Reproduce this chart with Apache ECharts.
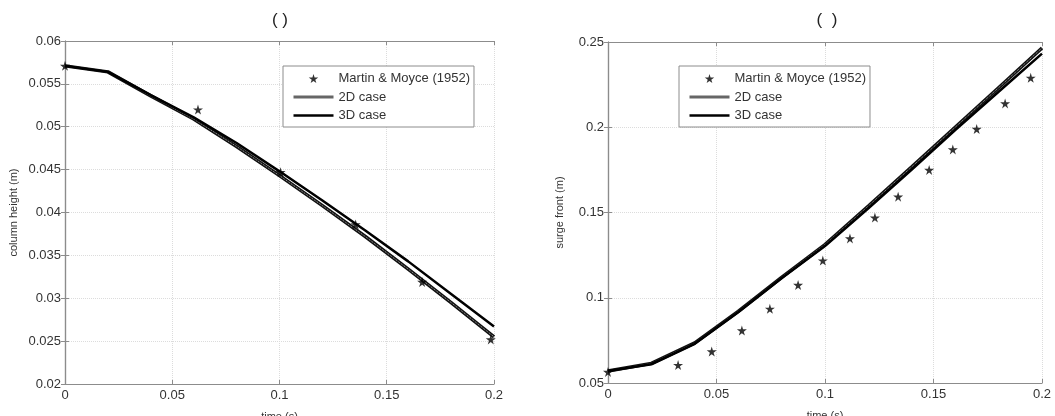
<!DOCTYPE html>
<html>
<head>
<meta charset="utf-8">
<script src="https://cdn.jsdelivr.net/npm/echarts@6/dist/echarts.min.js"></script>
<style>
  html, body { margin: 0; padding: 0; background: #fff; }
  #chart { width: 1055px; height: 416px; }
</style>
</head>
<body>
<div id="chart"></div>
<script>
// simulation time steps (s)
const simTime = [0, 0.02, 0.04, 0.06, 0.08, 0.1, 0.12, 0.14, 0.16, 0.18, 0.2];

// left panel: column height (m)
const height2D = [0.0571, 0.0564, 0.0536, 0.0509, 0.0477, 0.0443, 0.0408, 0.0372, 0.0334, 0.0295, 0.0255];
const height3D = [0.0571, 0.0564, 0.0537, 0.0511, 0.0481, 0.0448, 0.0414, 0.0379, 0.0343, 0.0305, 0.0267];
const expTimeH = [0, 0.062, 0.1005, 0.1355, 0.1665, 0.1985];
const expHeight = [0.0571, 0.0520, 0.0447, 0.0386, 0.0319, 0.0252];

// right panel: surge front (m)
const front2D = [0.057, 0.0615, 0.0735, 0.092, 0.112, 0.1312, 0.1538, 0.1768, 0.2, 0.2232, 0.2465];
const front3D = [0.057, 0.061, 0.073, 0.0915, 0.1115, 0.1303, 0.1525, 0.1752, 0.1983, 0.2208, 0.2432];
const expTimeF = [0, 0.0323, 0.0478, 0.0617, 0.0746, 0.0876, 0.099, 0.1115, 0.123, 0.1337, 0.148, 0.1589, 0.1699, 0.183, 0.1948];
const expFront = [0.0565, 0.0605, 0.0685, 0.0808, 0.0935, 0.1075, 0.1218, 0.1348, 0.147, 0.1593, 0.175, 0.187, 0.199, 0.214, 0.229];

const xTicks = { min: 0, max: 0.2, interval: 0.05 };

const starPath = 'path://M50,0 L61,35 L98,35 L68,57 L79,91 L50,70 L21,91 L32,57 L2,35 L39,35 Z';
const font = 'Liberation Sans, Arial, sans-serif';

const zip = (xs, ys) => xs.map((x, i) => [x, ys[i]]);
const fmt = (v) => String(+v.toFixed(3));

function mainX(grid, name) {
  return {
    type: 'value', gridIndex: grid, min: xTicks.min, max: xTicks.max, interval: xTicks.interval,
    name: name, nameLocation: 'middle', nameGap: 27,
    nameTextStyle: { color: '#333', fontSize: 11, fontFamily: font },
    axisLine: { show: true, lineStyle: { color: '#8c8c8c', width: 1.2 } },
    axisTick: { show: true, inside: true, length: 4, lineStyle: { color: '#8c8c8c' } },
    axisLabel: { color: '#333', fontSize: 13, fontFamily: font, margin: 5, formatter: fmt },
    splitLine: { show: true, lineStyle: { color: '#dcdcdc', type: 'dotted' } }
  };
}
function topX(grid) {
  return {
    type: 'value', gridIndex: grid, position: 'top', min: xTicks.min, max: xTicks.max, interval: xTicks.interval,
    axisLine: { show: true, lineStyle: { color: '#8c8c8c', width: 1.2 } },
    axisTick: { show: true, inside: true, length: 4, lineStyle: { color: '#8c8c8c' } },
    axisLabel: { show: false }, splitLine: { show: false }
  };
}
function mainY(grid, name, min, max, step, gap) {
  return {
    type: 'value', gridIndex: grid, min: min, max: max, interval: step,
    name: name, nameLocation: 'middle', nameGap: gap,
    nameTextStyle: { color: '#333', fontSize: 11, fontFamily: font },
    axisLine: { show: true, lineStyle: { color: '#8c8c8c', width: 1.2 } },
    axisTick: { show: true, inside: true, length: 4, lineStyle: { color: '#8c8c8c' } },
    axisLabel: { color: '#333', fontSize: 13, fontFamily: font, margin: 4, formatter: fmt },
    splitLine: { show: true, lineStyle: { color: '#dcdcdc', type: 'dotted' } }
  };
}
function rightY(grid, min, max, step) {
  return {
    type: 'value', gridIndex: grid, position: 'right', min: min, max: max, interval: step,
    axisLine: { show: true, lineStyle: { color: '#8c8c8c', width: 1.2 } },
    axisTick: { show: true, inside: true, length: 4, lineStyle: { color: '#8c8c8c' } },
    axisLabel: { show: false }, splitLine: { show: false }
  };
}

function panelSeries(idx, expT, expV, d2, d3) {
  return [
    {
      name: '2D case', type: 'line', xAxisIndex: idx * 2, yAxisIndex: idx * 2,
      data: zip(simTime, d2), symbol: 'none', z: 2,
      itemStyle: { color: '#111' },
      lineStyle: { color: '#111', width: 3.5 }
    },
    {
      name: '2D inner', type: 'line', xAxisIndex: idx * 2, yAxisIndex: idx * 2,
      data: zip(simTime, d2), symbol: 'none', z: 3, silent: true,
      lineStyle: { color: '#aaa', width: 1, type: [1, 1] }
    },
    {
      name: '3D case', type: 'line', xAxisIndex: idx * 2, yAxisIndex: idx * 2,
      data: zip(simTime, d3), symbol: 'none', z: 4,
      itemStyle: { color: '#000' },
      lineStyle: { color: '#000', width: 2.5 }
    },
    {
      name: 'Martin & Moyce (1952)', type: 'scatter', xAxisIndex: idx * 2, yAxisIndex: idx * 2,
      data: zip(expT, expV), symbol: starPath, symbolSize: 10, z: 5,
      itemStyle: { color: '#000' }
    }
  ];
}

function legendAt(left) {
  return {
    orient: 'vertical', left: left, top: 66,
    padding: [6, 4, 5, 9], itemGap: 5.5, itemWidth: 40, itemHeight: 9,
    backgroundColor: '#fff', borderColor: '#8c8c8c', borderWidth: 1,
    textStyle: { color: '#333', fontSize: 13, fontFamily: font },
    selectedMode: false,
    data: [
      { name: 'Martin & Moyce (1952)', icon: starPath, itemStyle: { color: '#000' } },
      { name: '2D case', itemStyle: { opacity: 0 }, lineStyle: { color: '#666', width: 3 } },
      { name: '3D case', itemStyle: { opacity: 0 }, lineStyle: { color: '#000', width: 2.5 } }
    ]
  };
}

const chart = echarts.init(document.getElementById('chart'));
chart.setOption({
  animation: false,
  title: [
    { text: '( )', left: 275, top: 7, textAlign: 'center', textStyle: { fontSize: 17, fontWeight: 'normal', color: '#222', fontFamily: font } },
    { text: '(  )', left: 822, top: 7, textAlign: 'center', textStyle: { fontSize: 17, fontWeight: 'normal', color: '#222', fontFamily: font } }
  ],
  grid: [
    { left: 65, top: 41, width: 429, height: 343, outerBoundsMode: 'none' },
    { left: 608, top: 42, width: 434, height: 341, outerBoundsMode: 'none' }
  ],
  legend: [legendAt(283), legendAt(679)],
  xAxis: [mainX(0, 'time (s)'), topX(0), mainX(1, 'time (s)'), topX(1)],
  yAxis: [
    mainY(0, 'column height (m)', 0.02, 0.06, 0.005, 46), rightY(0, 0.02, 0.06, 0.005),
    mainY(1, 'surge front (m)', 0.05, 0.25, 0.05, 43), rightY(1, 0.05, 0.25, 0.05)
  ],
  series: [
    ...panelSeries(0, expTimeH, expHeight, height2D, height3D),
    ...panelSeries(1, expTimeF, expFront, front2D, front3D)
  ]
});
</script>
</body>
</html>
